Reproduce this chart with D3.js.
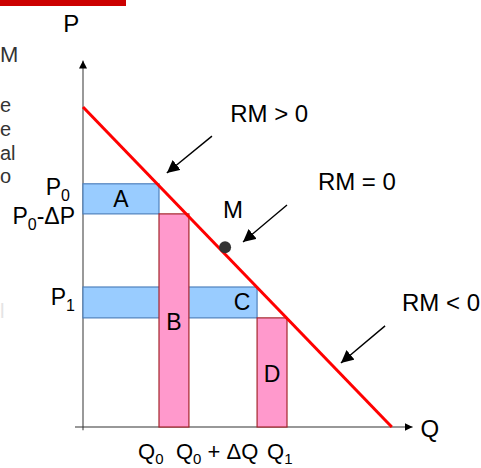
<!DOCTYPE html>
<html>
<head>
<meta charset="utf-8">
<script src="https://cdn.jsdelivr.net/npm/d3@7"></script>
<style>
  body { margin: 0; background: #fff; }
  svg { display: block; font-family: "Liberation Sans", Arial, sans-serif; }
</style>
</head>
<body>
<div id="chart"></div>
<script>
// demand curve end points (Q, P)
const demandQ = [0, 9.65];
const demandP = [10, 0];

// gained revenue (blue) and lost revenue (pink) areas
const blueNames = ["A", "C"];
const blueQ = [[0, 2.375], [0, 5.44]];
const blueP = [[6.66, 7.6], [3.41, 4.375]];

const pinkNames = ["B", "D"];
const pinkQ = [[2.375, 3.31], [5.44, 6.375]];
const pinkP = [[0, 6.66], [0, 3.41]];

// tick labels ("_x" = subscript)
const qTicks = [2.375, 3.31, 5.44];
const qTickLabels = ["Q_0", "Q_0 + ΔQ", "Q_1"];
const pTicks = [7.6, 6.66, 4.375];
const pTickLabels = ["P_0", "P_0-ΔP", "P_1"];

// point of unit elasticity
const pointM = [4.44, 5.62];

// marginal revenue annotations
const rmLabels = ["RM > 0", "RM = 0", "RM < 0"];
const rmTextAt = [[4.6, 9.53], [7.34, 7.4], [9.97, 3.62]];
const rmArrowFrom = [[4.03, 9.09], [6.375, 6.94], [9.44, 3.16]];
const rmArrowTo = [[2.62, 7.94], [5.0, 5.78], [8.06, 2.0]];

// bits of slide text visible on the left edge
const sideText = ["M", "e", "e", "al", "o", "l"];
const sideBaselines = [62, 112, 136, 160, 183, 318];
const sideColors = ["#333", "#333", "#333", "#333", "#333", "#e4e4e4"];

const W = 481, H = 468;

const svg = d3.select("#chart")
  .append("svg")
    .attr("width", W)
    .attr("height", H);

const x = d3.scaleLinear().domain([0, 10]).range([83, 403]);
const y = d3.scaleLinear().domain([0, 10]).range([427, 107]);

const defs = svg.append("defs");
defs.append("marker")
    .attr("id", "head")
    .attr("viewBox", "0 0 10 10")
    .attr("refX", 10).attr("refY", 5)
    .attr("markerWidth", 9).attr("markerHeight", 9)
    .attr("markerUnits", "strokeWidth")
    .attr("orient", "auto")
  .append("path")
    .attr("d", "M0,0L10,5L0,10Z")
    .attr("fill", "#000");
defs.append("marker")
    .attr("id", "axhead")
    .attr("viewBox", "0 0 10 10")
    .attr("refX", 10).attr("refY", 5)
    .attr("markerWidth", 8).attr("markerHeight", 10)
    .attr("markerUnits", "userSpaceOnUse")
    .attr("orient", "auto")
  .append("path")
    .attr("d", "M0,0L10,5L0,10Z")
    .attr("fill", "#000");

// red bar at the top
svg.append("rect")
  .attr("x", 0).attr("y", 0)
  .attr("width", 126).attr("height", 6)
  .attr("fill", "#cc0000");

// left edge text
svg.selectAll("text.side")
  .data(sideText)
  .enter()
  .append("text")
    .attr("class", "side")
    .attr("x", 0)
    .attr("y", (d, i) => sideBaselines[i])
    .attr("font-size", (d, i) => i === 0 ? 22 : 20)
    .attr("fill", (d, i) => sideColors[i])
    .text(d => d);

// helper: write text with "_x" subscripts
function richText(sel, str, big, small, shift) {
  const parts = str.split(/_(\w)/);
  parts.forEach((p, i) => {
    if (!p) return;
    const sub = i % 2 === 1;
    sel.append("tspan")
      .attr("font-size", sub ? small : big)
      .attr("dy", sub ? shift : (i > 0 ? -shift : 0))
      .text(p);
  });
}

// axes
svg.append("line")
  .attr("x1", x(0)).attr("x2", x(0))
  .attr("y1", y(-0.1)).attr("y2", y(11.45))
  .attr("stroke", "#555").attr("stroke-width", 1.2)
  .attr("marker-end", "url(#axhead)");
svg.append("line")
  .attr("x1", x(-0.25)).attr("x2", x(10.3))
  .attr("y1", y(0)).attr("y2", y(0))
  .attr("stroke", "#333").attr("stroke-width", 1.2)
  .attr("marker-end", "url(#axhead)");

svg.append("text")
  .attr("x", x(-0.62)).attr("y", 32)
  .attr("font-size", 24)
  .text("P");
svg.append("text")
  .attr("x", x(10.55)).attr("y", y(0) + 10)
  .attr("font-size", 24)
  .text("Q");

// blue rectangles
svg.selectAll("rect.blue")
  .data(blueNames)
  .enter()
  .append("rect")
    .attr("class", "blue")
    .attr("x", (d, i) => x(blueQ[i][0]))
    .attr("y", (d, i) => y(blueP[i][1]))
    .attr("width", (d, i) => x(blueQ[i][1]) - x(blueQ[i][0]))
    .attr("height", (d, i) => y(blueP[i][0]) - y(blueP[i][1]))
    .attr("fill", "#99ccff")
    .attr("stroke", "#4f81bd")
    .attr("stroke-width", 1.2);

// pink rectangles
svg.selectAll("rect.pink")
  .data(pinkNames)
  .enter()
  .append("rect")
    .attr("class", "pink")
    .attr("x", (d, i) => x(pinkQ[i][0]))
    .attr("y", (d, i) => y(pinkP[i][1]))
    .attr("width", (d, i) => x(pinkQ[i][1]) - x(pinkQ[i][0]))
    .attr("height", (d, i) => y(pinkP[i][0]) - y(pinkP[i][1]))
    .attr("fill", "#ff99cc")
    .attr("stroke", "#a4262c")
    .attr("stroke-width", 1.2);

// area letters
svg.selectAll("text.blue")
  .data(blueNames)
  .enter()
  .append("text")
    .attr("class", "blue")
    .attr("x", (d, i) => i === 0 ? (x(blueQ[i][0]) + x(blueQ[i][1])) / 2 : x(blueQ[i][1]) - 15)
    .attr("y", (d, i) => (y(blueP[i][0]) + y(blueP[i][1])) / 2 + 8)
    .attr("text-anchor", "middle")
    .attr("font-size", 23)
    .text(d => d);
svg.selectAll("text.pink")
  .data(pinkNames)
  .enter()
  .append("text")
    .attr("class", "pink")
    .attr("x", (d, i) => (x(pinkQ[i][0]) + x(pinkQ[i][1])) / 2)
    .attr("y", (d, i) => (y(pinkP[i][0]) + y(pinkP[i][1])) / 2 + 10)
    .attr("text-anchor", "middle")
    .attr("font-size", 23)
    .text(d => d);

// demand line
const line = d3.line()
  .x(d => x(d[0]))
  .y(d => y(d[1]));
svg.append("path")
  .datum(demandQ.map((q, i) => [q, demandP[i]]))
  .attr("fill", "none")
  .attr("stroke", "#ff0000")
  .attr("stroke-width", 3)
  .attr("d", line);

// point M
svg.append("circle")
  .attr("cx", x(pointM[0])).attr("cy", y(pointM[1]))
  .attr("r", 6)
  .attr("fill", "#333");
svg.append("text")
  .attr("x", x(pointM[0]) - 2).attr("y", y(pointM[1]) - 29)
  .attr("font-size", 24)
  .text("M");

// RM arrows and labels
svg.selectAll("line.rm")
  .data(rmLabels)
  .enter()
  .append("line")
    .attr("class", "rm")
    .attr("x1", (d, i) => x(rmArrowFrom[i][0]))
    .attr("y1", (d, i) => y(rmArrowFrom[i][1]))
    .attr("x2", (d, i) => x(rmArrowTo[i][0]))
    .attr("y2", (d, i) => y(rmArrowTo[i][1]))
    .attr("stroke", "#000")
    .attr("stroke-width", 1.4)
    .attr("marker-end", "url(#head)");
svg.selectAll("text.rm")
  .data(rmLabels)
  .enter()
  .append("text")
    .attr("class", "rm")
    .attr("x", (d, i) => x(rmTextAt[i][0]))
    .attr("y", (d, i) => y(rmTextAt[i][1]))
    .attr("font-size", 24)
    .text(d => d);

// quantity tick labels
const qOffsets = [-21, -13, 10];
qTicks.forEach((q, i) => {
  const t = svg.append("text")
    .attr("x", x(q) + qOffsets[i])
    .attr("y", 459);
  richText(t, qTickLabels[i], 22, 15, 5);
});

// price tick labels
const pOffsets = [-13, -8, -8];
const pBase = [195, 224, 305];
pTicks.forEach((p, i) => {
  const t = svg.append("text")
    .attr("x", x(0) + pOffsets[i])
    .attr("y", pBase[i])
    .attr("text-anchor", "end");
  richText(t, pTickLabels[i], 23, 16, 6);
});
</script>
</body>
</html>
